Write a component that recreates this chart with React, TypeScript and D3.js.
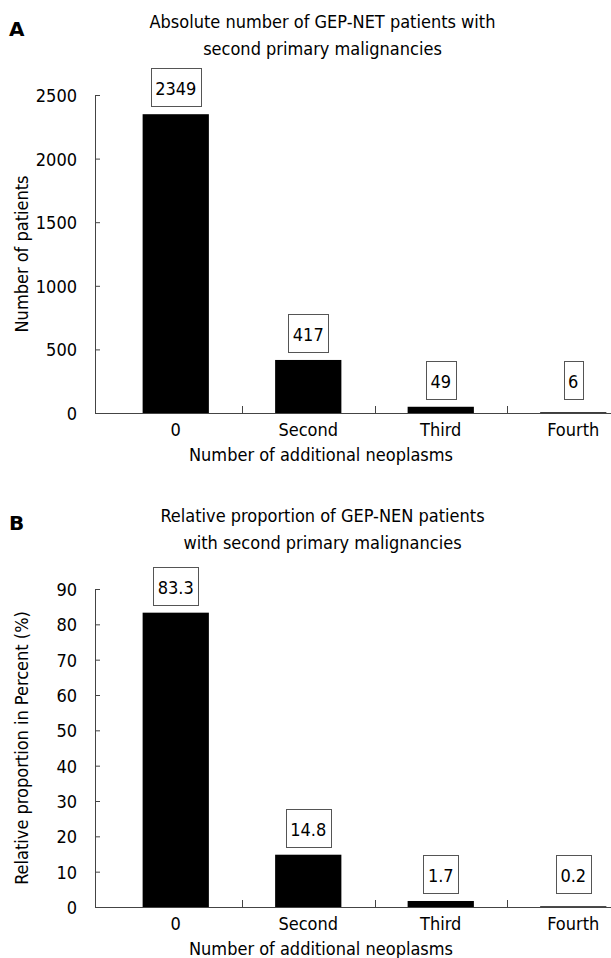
import React, { useEffect, useRef } from 'react'
import * as d3 from 'd3'

// categories and values
const categories = ['0', 'Second', 'Third', 'Fourth']
const patientCounts = [2349, 417, 49, 6]
const patientPercents = [83.3, 14.8, 1.7, 0.2]
const countTicks = [0, 500, 1000, 1500, 2000, 2500]
const percentTicks = [0, 10, 20, 30, 40, 50, 60, 70, 80, 90]
const countLabels = ['2349', '417', '49', '6']
const percentLabels = ['83.3', '14.8', '1.7', '0.2']

const W = 611
const H = 958
const FONT = '"DejaVu Sans Condensed", "DejaVu Sans", sans-serif'
const FS = 18
const AXIS = '#444'

function drawPanel(svg, opts) {
  const { top, letter, titleLines, yTitle, values, labels, ticks } = opts
  const plotH = 318
  const bottom = top + plotH
  const axisX = 95

  const g = svg.append('g').style('font-family', FONT).style('font-size', FS + 'px')

  const x = d3.scaleBand()
    .domain(categories)
    .range([109.5, 639.5])
    .paddingInner(0.5)
    .paddingOuter(0.25)

  const y = d3.scaleLinear()
    .domain([0, d3.max(ticks)])
    .range([bottom, top])

  // panel letter and title
  g.append('text')
    .attr('x', 9)
    .attr('y', top - 59)
    .style('font-weight', 'bold')
    .style('font-family', '"DejaVu Sans", sans-serif')
    .style('font-size', '20px')
    .text(letter)

  titleLines.forEach(function(line, i) {
    g.append('text')
      .attr('x', 322.5)
      .attr('y', top - 67 + i * 27)
      .attr('text-anchor', 'middle')
      .text(line)
  })

  // bars
  g.selectAll('.bar')
    .data(values)
    .enter().append('rect')
    .attr('x', (d, i) => x(categories[i]))
    .attr('width', x.bandwidth())
    .attr('y', d => y(d))
    .attr('height', d => bottom - y(d))
    .attr('fill', '#000')

  // y axis, ticks pointing inward
  const yAxis = g.append('g')
    .attr('transform', 'translate(' + axisX + ',0)')
    .call(d3.axisLeft(y).tickValues(ticks).tickFormat(d3.format('d'))
      .tickSizeInner(-5).tickSizeOuter(0).tickPadding(18))
  yAxis.attr('font-family', null).attr('font-size', null)
  yAxis.selectAll('path, line').attr('stroke', AXIS)
  yAxis.selectAll('text').attr('fill', '#000').attr('dy', '0.36em')

  // x axis line and boundary ticks
  g.append('line')
    .attr('x1', axisX).attr('x2', W)
    .attr('y1', bottom + 0.5).attr('y2', bottom + 0.5)
    .attr('stroke', AXIS)
  const step = x.step()
  categories.slice(0, -1).forEach(function(c) {
    const bx = Math.round(x(c) + x.bandwidth() + (step - x.bandwidth()) / 2) + 0.5
    g.append('line')
      .attr('x1', bx).attr('x2', bx)
      .attr('y1', bottom).attr('y2', bottom - 7)
      .attr('stroke', AXIS)
  })

  categories.forEach(function(c) {
    g.append('text')
      .attr('x', x(c) + x.bandwidth() / 2)
      .attr('y', bottom + 23)
      .attr('text-anchor', 'middle')
      .text(c)
  })

  g.append('text')
    .attr('x', 321)
    .attr('y', bottom + 48)
    .attr('text-anchor', 'middle')
    .text('Number of additional neoplasms')

  g.append('text')
    .attr('transform', 'translate(28,' + (top + plotH / 2) + ') rotate(-90)')
    .attr('text-anchor', 'middle')
    .text(yTitle)

  // boxed value labels
  values.forEach(function(v, i) {
    const cx = x(categories[i]) + x.bandwidth() / 2
    const boxBottom = Math.min(y(v) - 8, bottom - 14)
    const t = g.append('text')
      .attr('x', cx)
      .attr('y', boxBottom - 11)
      .attr('text-anchor', 'middle')
      .text(labels[i])
    const tw = t.node().getComputedTextLength()
    const bw = Math.round(tw + 9)
    g.insert('rect', 'text')
      .attr('x', Math.round(cx - bw / 2) + 0.5)
      .attr('y', Math.round(boxBottom - 38) + 0.5)
      .attr('width', bw)
      .attr('height', 38)
      .attr('fill', '#fff')
      .attr('stroke', '#555')
  })
}

export default function App() {
  const ref = useRef(null)

  useEffect(() => {
    const svg = d3.select(ref.current)
    svg.selectAll('*').remove()

    drawPanel(svg, {
      top: 95,
      letter: 'A',
      titleLines: ['Absolute number of GEP-NET patients with', 'second primary malignancies'],
      yTitle: 'Number of patients',
      values: patientCounts,
      labels: countLabels,
      ticks: countTicks
    })

    drawPanel(svg, {
      top: 589,
      letter: 'B',
      titleLines: ['Relative proportion of GEP-NEN patients', 'with second primary malignancies'],
      yTitle: 'Relative proportion in Percent (%)',
      values: patientPercents,
      labels: percentLabels,
      ticks: percentTicks
    })
  }, [])

  return (
    <svg
      ref={ref}
      width={W}
      height={H}
      style={{ position: 'absolute', left: 0, top: 0, background: '#fff' }}
    />
  )
}
